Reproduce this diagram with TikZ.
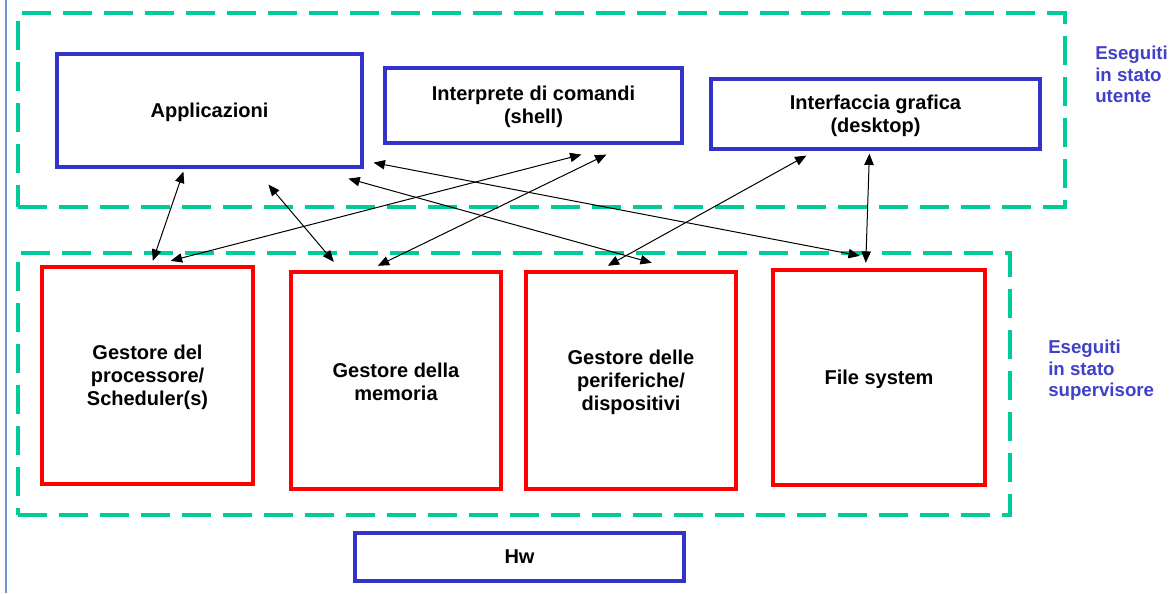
\documentclass[tikz,border=0pt]{standalone}
\usepackage{fontspec}
\setmainfont{Liberation Sans}
\usetikzlibrary{arrows.meta,fit,calc}
\definecolor{boxblue}{HTML}{3333CC}
\definecolor{boxred}{HTML}{FF0000}
\definecolor{frameteal}{HTML}{00CC99}
\definecolor{labelblue}{HTML}{4040C8}
\definecolor{edgeblue}{HTML}{7096D0}
\tikzset{
  bluebox/.style={draw=boxblue, line width=2.4pt, inner sep=0pt},
  redbox/.style={draw=boxred, line width=3.3pt, inner sep=0pt},
  boxtext/.style={align=center, inner sep=0pt,
    font=\fontsize{15pt}{17.25pt}\selectfont\bfseries},
  groupframe/.style={draw=frameteal, line width=2.5pt, dash pattern=on 21.75pt off 9pt, inner sep=0pt},
  statelabel/.style={text=labelblue, align=left, anchor=north west, inner sep=0pt,
    font=\fontsize{14pt}{16pt}\selectfont\bfseries},
  link/.style={draw=black, line width=0.75pt, {Triangle[length=8.5pt,width=7pt]}-{Triangle[length=8.5pt,width=7pt]}}
}
\begin{document}
\begin{tikzpicture}[x=0.75pt,y=-0.75pt]
\useasboundingbox (0,0) rectangle (1175,593);
% left edge line
\draw[edgeblue, line width=1.5pt] (6,0) -- (6,593);
% group frames
\node[groupframe, fit={(18,13) (1065,207)}] (userframe) {};
\node[groupframe, fit={(18,253) (1010,515)}] (superframe) {};
% user-level boxes
\node[bluebox, fit={(57,54) (362,167)}] (app) {};
\node[bluebox, fit={(385,68) (682,143)}] (shell) {};
\node[bluebox, fit={(711,79) (1040,149)}] (gui) {};
% supervisor-level boxes
\node[redbox, fit={(42,267) (253,484)}] (proc) {};
\node[redbox, fit={(291,272) (501,489)}] (mem) {};
\node[redbox, fit={(526,272) (736,489)}] (per) {};
\node[redbox, fit={(773,270) (985,485)}] (fs) {};
% hardware
\node[bluebox, fit={(355,533) (684,581)}] (hw) {};
% box texts
\node[boxtext] (apptext) at ([yshift=-1pt]app.center) {Applicazioni};
\node[boxtext] (shelltext) at ([yshift=-1pt]shell.center) {Interprete di comandi\\(shell)};
\node[boxtext] (guitext) at ([yshift=-1pt]gui.center) {Interfaccia grafica\\(desktop)};
\node[boxtext] (proctext) at ([yshift=-1pt]proc.center) {Gestore del\\processore/\\Scheduler(s)};
\node[boxtext] (memtext) at ([yshift=-1pt]mem.center) {Gestore della\\memoria};
\node[boxtext] (pertext) at ([yshift=-1pt]per.center) {Gestore delle\\periferiche/\\dispositivi};
\node[boxtext] (fstext) at ([yshift=-1.5pt]fs.center) {File system};
\node[boxtext] (hwtext) at (hw.center) {Hw};
% labels
\node[statelabel] (userlabel) at (1095,46) {Eseguiti\\in stato\\utente};
\node[statelabel] (superlabel) at (1048,340) {Eseguiti\\in stato\\supervisore};
% connectors
\draw[link] ([shift={(128,3)}]app.south west) -- ([shift={(113,-4)}]proc.north west);
\draw[link] ([shift={(213,16)}]app.south west) -- ([shift={(45,-8)}]mem.north west);
\draw[link] ([shift={(131,-4)}]proc.north west) -- ([shift={(198,10)}]shell.south west);
\draw[link] ([shift={(89,-4)}]mem.north west) -- ([shift={(223,10)}]shell.south west);
\draw[link] ([shift={(293,10)}]app.south west) -- ([shift={(128,-7)}]per.north west);
\draw[link] ([shift={(10,-6)}]app.south east) -- ([shift={(89,-12)}]fs.north west);
\draw[link] ([shift={(84,-4)}]per.north west) -- ([shift={(97,5)}]gui.south west);
\draw[link] ([shift={(160,3)}]gui.south west) -- ([shift={(95,-5)}]fs.north west);
\end{tikzpicture}
\end{document}
